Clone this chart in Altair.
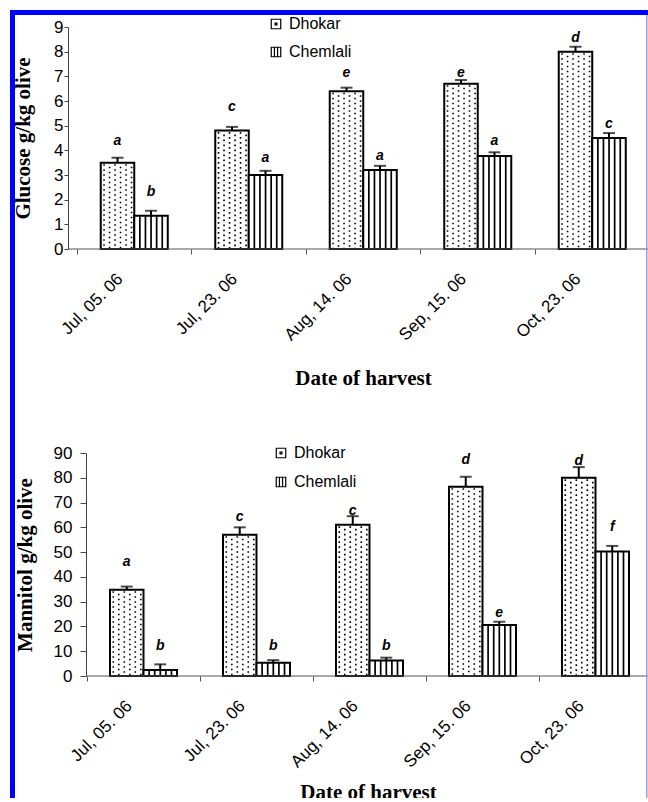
import altair as alt
import pandas as pd

dates = ["Jul, 05. 06", "Jul, 23. 06", "Aug, 14. 06", "Sep, 15. 06", "Oct, 23. 06"]
varieties = ["Dhokar", "Chemlali"]

glucose_dhokar = [3.5, 4.8, 6.4, 6.7, 8.0]
glucose_dhokar_err = [0.2, 0.15, 0.14, 0.15, 0.2]
glucose_chemlali = [1.35, 3.0, 3.2, 3.77, 4.5]
glucose_chemlali_err = [0.2, 0.17, 0.17, 0.15, 0.2]
glucose_dhokar_letters = ["a", "c", "e", "e", "d"]
glucose_chemlali_letters = ["b", "a", "a", "a", "c"]
glucose_dhokar_label_y = [4.38, 5.76, 7.13, 7.13, 8.55]
glucose_chemlali_label_y = [2.31, 3.69, 3.77, 4.38, 5.07]

mannitol_dhokar = [34.8, 57.0, 61.0, 76.4, 80.0]
mannitol_dhokar_err = [1.3, 3.0, 3.5, 4.0, 4.3]
mannitol_chemlali = [2.4, 5.3, 6.3, 20.6, 50.2]
mannitol_chemlali_err = [2.3, 1.1, 1.1, 1.3, 2.3]
mannitol_dhokar_letters = ["a", "c", "c", "d", "d"]
mannitol_chemlali_letters = ["b", "b", "b", "e", "f"]
mannitol_dhokar_label_y = [46.1, 64.3, 66.7, 87.2, 86.9]
mannitol_chemlali_label_y = [12.1, 12.1, 12.1, 25.6, 60.0]

SANS = "Liberation Sans"
SERIF = "Liberation Serif"
BAR_W = 33.5
HALF = BAR_W / 2
BLUE = "#0000ff"
W, H = 562, 771          # one shared plotting area, origin at image (86, 27)
DOT_PATH = "M-1,-1H1V1H-1Z M-0.2,-0.2H0.2V0.2H-0.2Z"
STRIPE_PATH = "M-1,-1H1V1H-1Z M-0.33,-1V1 M0.33,-1V1"


def panel_df(dv, de, dl, dly, cv, ce, cl, cly):
    rows = []
    for i, d in enumerate(dates):
        rows.append(dict(date=d, variety="Dhokar", value=dv[i], top=dv[i] + de[i],
                         letter=dl[i], label_y=dly[i]))
        rows.append(dict(date=d, variety="Chemlali", value=cv[i], top=cv[i] + ce[i],
                         letter=cl[i], label_y=cly[i]))
    return pd.DataFrame(rows)


def make_panel(df, ytitle, ymax, ystep, y_px, x_px, yoffset, ytick, ylabpad, ytitle_x,
               xtitle_x, xtitle_y, leg_x, leg_y, leg_row):
    y_bottom, y_top = y_px
    xscale = alt.Scale(domain=dates, range=list(x_px), paddingInner=0, paddingOuter=0)
    yscale = alt.Scale(domain=[0, ymax], range=[y_bottom, y_top], nice=False, zero=True)
    x_axis = alt.Axis(title="Date of harvest", orient="bottom", offset=y_bottom - H,
                      bandPosition=0, labelAngle=-45,
                      labelAlign="right", labelBaseline="middle", labelOffset=-14,
                      labelPadding=22, labelFont=SANS, labelFontSize=17, labelColor="black",
                      tickSize=5, tickColor="#555", domain=False, grid=False,
                      titleFont=SERIF, titleFontSize=21, titleFontWeight="bold",
                      titleColor="black", titleX=xtitle_x, titleY=xtitle_y,
                      titleAlign="center", titleBaseline="middle")
    y_axis = alt.Axis(title=ytitle, orient="left", values=list(range(0, ymax + 1, ystep)),
                      offset=yoffset, tickSize=ytick, tickColor="#444", domainColor="#444",
                      labelFont=SANS, labelFontSize=17, labelColor="black",
                      labelPadding=ylabpad, grid=False, titleFont=SERIF, titleFontSize=21,
                      titleFontWeight="bold", titleColor="black", titleX=ytitle_x,
                      titleY=(y_bottom + y_top) / 2, titleAlign="center",
                      titleBaseline="middle")
    base = alt.Chart(df)
    xe = alt.X("date:N", scale=xscale, axis=x_axis, sort=dates)

    def ye(field):
        return alt.Y(field, type="quantitative", scale=yscale, axis=y_axis)

    dh = base.transform_filter(alt.datum.variety == "Dhokar")
    ch = base.transform_filter(alt.datum.variety == "Chemlali")

    layers = [
        dh.mark_bar(width=BAR_W, xOffset=-HALF, fill="white", stroke="black",
                    strokeWidth=2).encode(x=xe, y=ye("value")),
        ch.mark_bar(width=BAR_W, xOffset=HALF, fill="white", stroke="black",
                    strokeWidth=2).encode(x=xe, y=ye("value")),
    ]
    for k in range(6):
        layers.append(
            dh.mark_rule(xOffset=-BAR_W + 3.3 + 5.5 * k, strokeDash=[1.6, 3.4],
                         strokeDashOffset=-1.5 - (k % 2) * 2.5, strokeWidth=1.6,
                         color="black", strokeCap="butt").encode(
                x=xe, y=ye("value"), y2=alt.datum(0)))
    for k in range(5):
        layers.append(
            ch.mark_rule(xOffset=5.6 * (k + 1), strokeWidth=1.7, color="black").encode(
                x=xe, y=ye("value"), y2=alt.datum(0)))
    for sub, off in ((dh, -HALF), (ch, HALF)):
        layers.append(sub.mark_rule(xOffset=off, strokeWidth=2, color="black").encode(
            x=xe, y=ye("value"), y2="top:Q"))
        layers.append(sub.mark_tick(xOffset=off, size=12, thickness=2, color="black",
                                    orient="horizontal").encode(x=xe, y=ye("top")))
        layers.append(sub.mark_text(xOffset=off, font=SANS, fontSize=14, fontStyle="italic",
                                    fontWeight="bold", baseline="middle", color="black").encode(
            x=xe, y=ye("label_y"), text="letter:N"))
    # legend (a real Vega-Lite legend; this layer draws no marks)
    layers.append(
        base.transform_filter("false").mark_point(filled=False, color="black",
                                                  strokeWidth=1.2).encode(
            x=xe, y=ye("value"),
            shape=alt.Shape("variety:N", scale=alt.Scale(domain=varieties,
                                                         range=[DOT_PATH, STRIPE_PATH]),
                            legend=alt.Legend(title=None, orient="none", legendX=leg_x,
                                              legendY=leg_y, direction="vertical",
                                              symbolSize=90, symbolStrokeColor="black",
                                              symbolStrokeWidth=1.2, symbolOpacity=1,
                                              labelFont=SANS, labelFontSize=16,
                                              labelColor="black", rowPadding=leg_row,
                                              labelOffset=5, padding=0))))
    # x axis line
    layers.append(alt.Chart(alt.Data(values=[{}])).mark_rect(color="#555555").encode(
        x=alt.value(-yoffset), x2=alt.value(W), y=alt.value(y_bottom - 0.5),
        y2=alt.value(y_bottom + 0.5)))
    return alt.layer(*layers)


df_g = panel_df(glucose_dhokar, glucose_dhokar_err, glucose_dhokar_letters,
                glucose_dhokar_label_y, glucose_chemlali, glucose_chemlali_err,
                glucose_chemlali_letters, glucose_chemlali_label_y)
df_m = panel_df(mannitol_dhokar, mannitol_dhokar_err, mannitol_dhokar_letters,
                mannitol_dhokar_label_y, mannitol_chemlali, mannitol_chemlali_err,
                mannitol_chemlali_letters, mannitol_chemlali_label_y)

top = make_panel(df_g, "Glucose g/kg olive", 9, 1, (222, 0), (-9, 563.5), 18,
                 4, 1, -45, 277, 129, 182, -11, 12)
bottom = make_panel(df_m, "Mannitol g/kg olive", 90, 10, (649, 426), (1, 566), 0,
                    6, 8, -61, 282, 116, 187, 418, 13)

frame = []
for (x1, x2, y1, y2, col) in [(-76, W, -17, -12, BLUE), (-76, -71, -17, H, BLUE),
                              (560, 561.5, -12, H, "#9a9ae6")]:
    frame.append(alt.Chart(alt.Data(values=[{}])).mark_rect(color=col).encode(
        x=alt.value(x1), x2=alt.value(x2), y=alt.value(y1), y2=alt.value(y2)))

chart = alt.layer(top, bottom, *frame).resolve_scale(
    x="independent", y="independent", shape="independent"
).resolve_axis(x="independent", y="independent").resolve_legend(
    shape="independent"
).properties(
    width=W, height=H,
    autosize=alt.AutoSizeParams(type="none"),
    padding={"left": 86, "top": 27, "right": 0, "bottom": 0}
).configure(background="white").configure_view(stroke=None)

chart.save("out.html", embed_options={"renderer": "svg", "actions": False})
